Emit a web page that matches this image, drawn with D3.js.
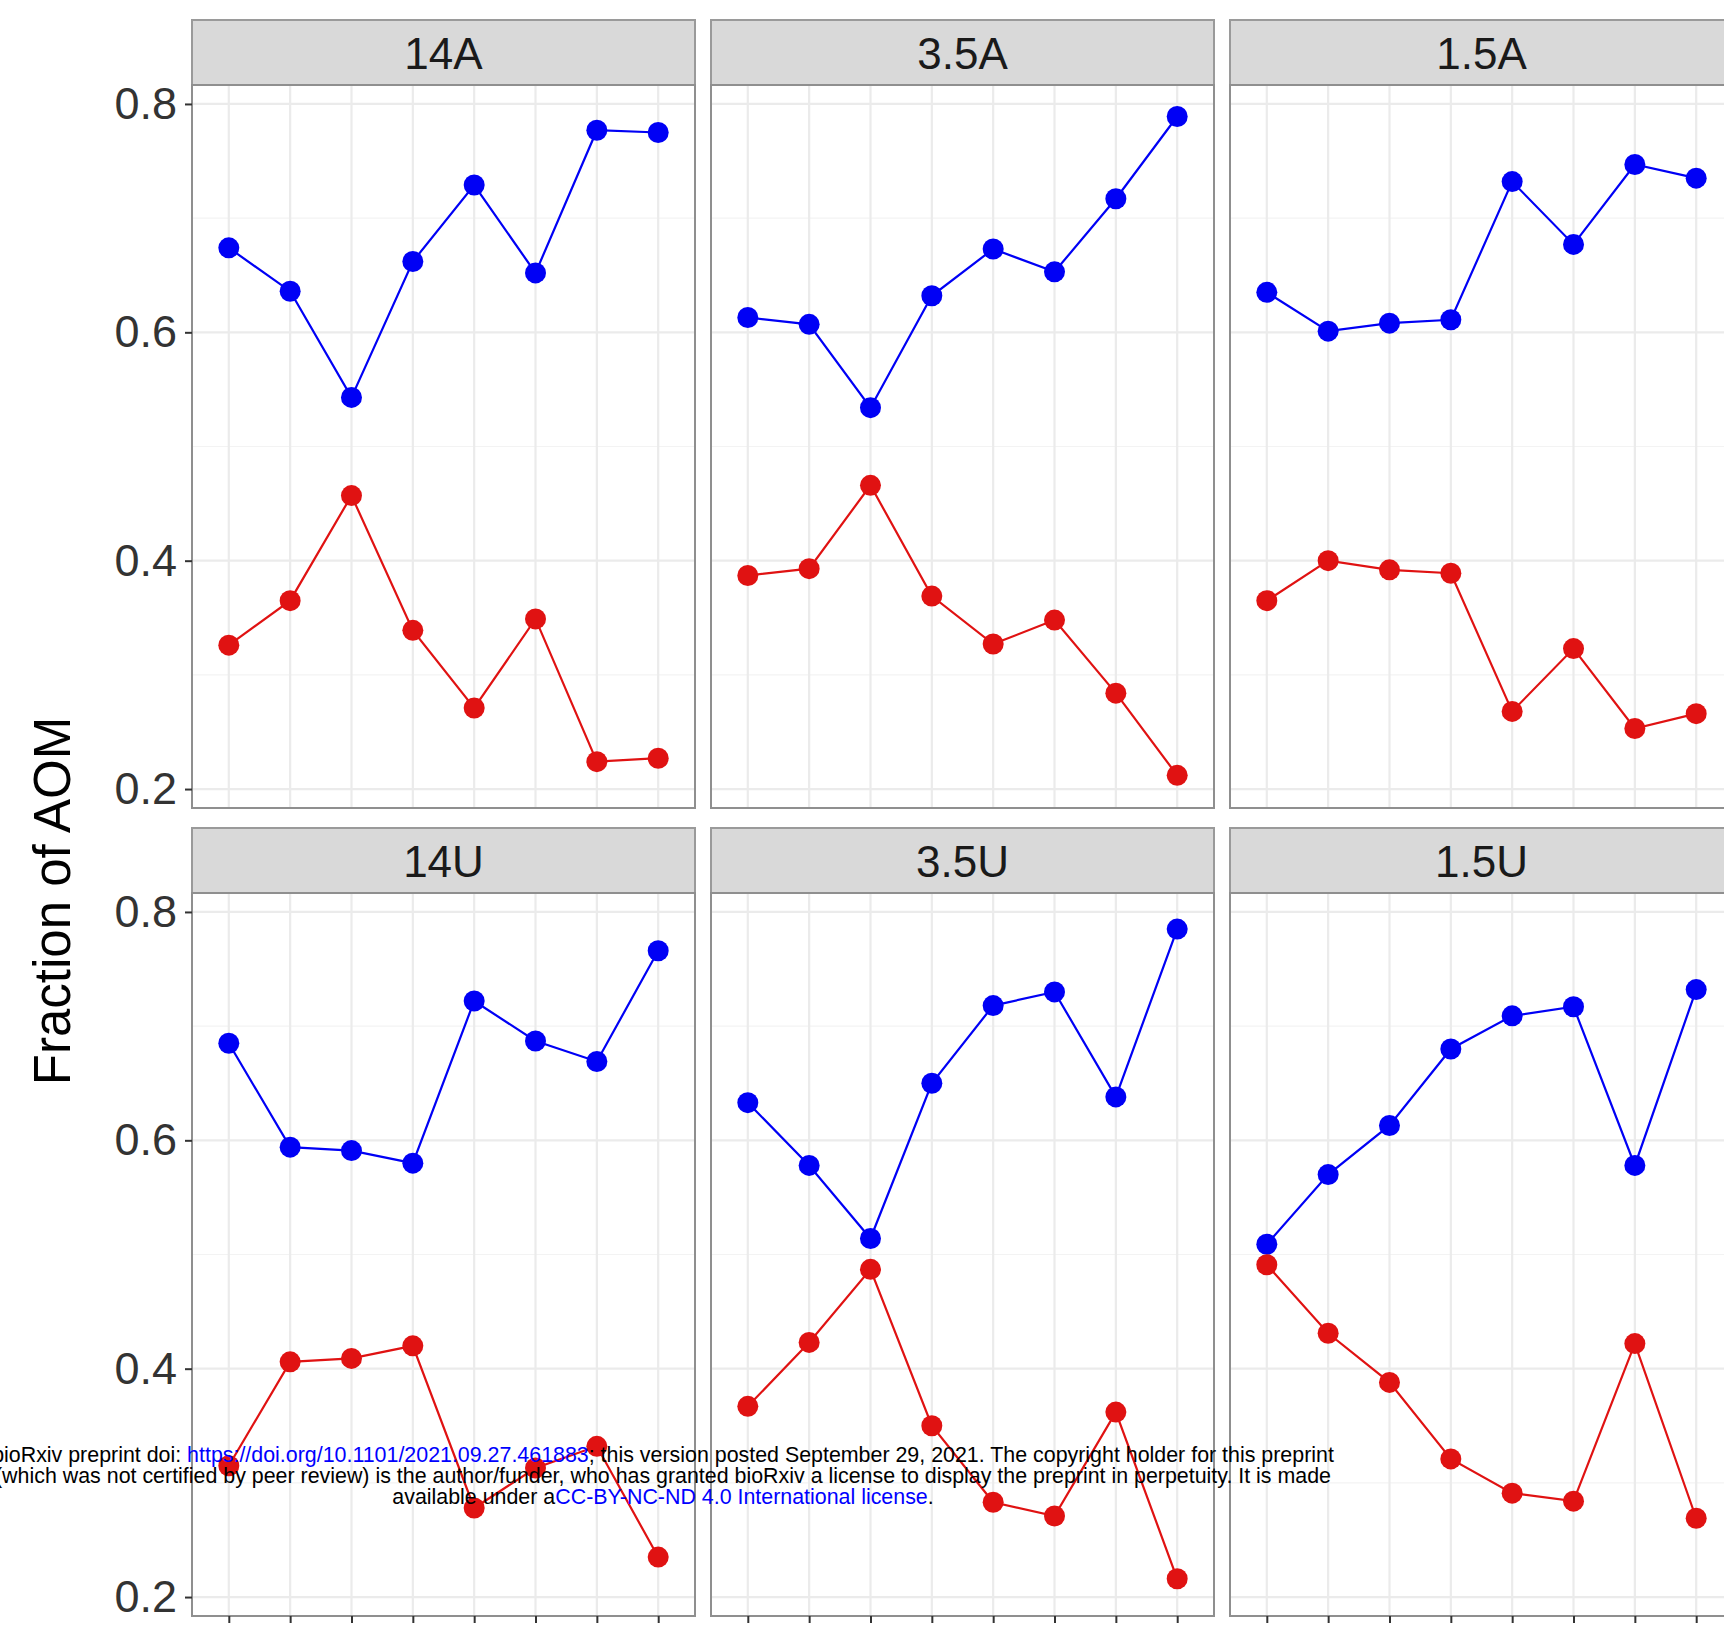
<!DOCTYPE html>
<html>
<head>
<meta charset="utf-8">
<title>Fraction of AOM</title>
<script src="https://cdn.jsdelivr.net/npm/d3@7"></script>
<style>
  body { margin: 0; background: #fff; }
  svg { display: block; }
</style>
</head>
<body>
<div id="chart"></div>
<script>
// facet names, in reading order
var panels = ["14A", "3.5A", "1.5A", "14U", "3.5U", "1.5U"];
// x categories (their labels are cut off below the picture)
var samples = ["s1", "s2", "s3", "s4", "s5", "s6", "s7", "s8"];

// values
var blue_14A = [0.674, 0.636, 0.543, 0.662, 0.729, 0.652, 0.777, 0.775];
var red_14A  = [0.326, 0.365, 0.457, 0.339, 0.271, 0.349, 0.224, 0.227];
var blue_35A = [0.613, 0.607, 0.534, 0.632, 0.673, 0.653, 0.717, 0.789];
var red_35A  = [0.387, 0.393, 0.466, 0.369, 0.327, 0.348, 0.284, 0.212];
var blue_15A = [0.635, 0.601, 0.608, 0.611, 0.732, 0.677, 0.747, 0.735];
var red_15A  = [0.365, 0.400, 0.392, 0.389, 0.268, 0.323, 0.253, 0.266];
var blue_14U = [0.685, 0.594, 0.591, 0.580, 0.722, 0.687, 0.669, 0.766];
var red_14U  = [0.315, 0.406, 0.409, 0.420, 0.278, 0.313, 0.332, 0.235];
var blue_35U = [0.633, 0.578, 0.514, 0.650, 0.718, 0.730, 0.638, 0.785];
var red_35U  = [0.367, 0.423, 0.487, 0.350, 0.283, 0.271, 0.362, 0.216];
var blue_15U = [0.509, 0.570, 0.613, 0.680, 0.709, 0.717, 0.578, 0.732];
var red_15U  = [0.491, 0.431, 0.388, 0.321, 0.291, 0.284, 0.422, 0.269];

var yTicks = [0.2, 0.4, 0.6, 0.8];
var yTickLabels = ["0.2", "0.4", "0.6", "0.8"];
var yMinor = [0.3, 0.5, 0.7];

var blueSeries = [blue_14A, blue_35A, blue_15A, blue_14U, blue_35U, blue_15U];
var redSeries  = [red_14A, red_35A, red_15A, red_14U, red_35U, red_15U];

// layout
var W = 1724, H = 1627;
var panelW = 503, panelH = 723, stripH = 65;
var left0 = 192, top0 = 20, colStep = 519, rowStep = 808;
var blue = "#0000f5", red = "#e01212";

var svg = d3.select("#chart").append("svg")
    .attr("width", W)
    .attr("height", H)
    .style("font-family", "Liberation Sans, Arial, Helvetica, sans-serif");

svg.append("rect").attr("width", W).attr("height", H).attr("fill", "#fff");

var x = d3.scalePoint()
    .domain(samples)
    .range([0, panelW])
    .padding(0.6);

var y = d3.scaleLinear()
    .domain([0.1834, 0.8166])
    .range([panelH, 0]);

var line = d3.line()
    .x(function(d, i) { return x(samples[i]); })
    .y(function(d) { return y(d); });

panels.forEach(function(name, k) {
    var col = k % 3, row = Math.floor(k / 3);
    var px = left0 + col * colStep;
    var sy = top0 + row * rowStep;
    var py = sy + stripH;

    // strip
    var strip = svg.append("g").attr("transform", "translate(" + px + "," + sy + ")");
    strip.append("rect")
        .attr("width", panelW).attr("height", stripH)
        .attr("fill", "#d9d9d9").attr("stroke", "#9a9a9a").attr("stroke-width", 2);
    strip.append("text")
        .attr("x", panelW / 2).attr("y", stripH / 2 + 16)
        .attr("text-anchor", "middle")
        .attr("font-size", 44)
        .attr("fill", "#1a1a1a")
        .text(name);

    var g = svg.append("g").attr("transform", "translate(" + px + "," + py + ")");

    // grid
    g.selectAll(".minor").data(yMinor).enter().append("line")
        .attr("x1", 0).attr("x2", panelW)
        .attr("y1", function(d) { return y(d); })
        .attr("y2", function(d) { return y(d); })
        .attr("stroke", "#f3f3f3").attr("stroke-width", 1.2);
    g.selectAll(".major").data(yTicks).enter().append("line")
        .attr("x1", 0).attr("x2", panelW)
        .attr("y1", function(d) { return y(d); })
        .attr("y2", function(d) { return y(d); })
        .attr("stroke", "#ebebeb").attr("stroke-width", 2.2);
    g.selectAll(".vgrid").data(samples).enter().append("line")
        .attr("x1", function(d) { return x(d); })
        .attr("x2", function(d) { return x(d); })
        .attr("y1", 0).attr("y2", panelH)
        .attr("stroke", "#ebebeb").attr("stroke-width", 2.2);

    // the two series
    [[blueSeries[k], blue], [redSeries[k], red]].forEach(function(s) {
        g.append("path")
            .attr("d", line(s[0]))
            .attr("fill", "none")
            .attr("stroke", s[1])
            .attr("stroke-width", 2.2);
    });
    [[blueSeries[k], blue], [redSeries[k], red]].forEach(function(s) {
        g.selectAll(null).data(s[0]).enter().append("circle")
            .attr("cx", function(d, i) { return x(samples[i]); })
            .attr("cy", function(d) { return y(d); })
            .attr("r", 10.5)
            .attr("fill", s[1]);
    });

    // panel border
    g.append("rect")
        .attr("width", panelW).attr("height", panelH)
        .attr("fill", "none").attr("stroke", "#8f8f8f").attr("stroke-width", 2);

    // y axis on the first column
    if (col === 0) {
        var ax = g.append("g")
            .call(d3.axisLeft(y).tickValues(yTicks)
                .tickFormat(function(d, i) { return yTickLabels[i]; })
                .tickSize(7).tickPadding(8));
        ax.select(".domain").remove();
        ax.selectAll("line").attr("stroke", "#333").attr("stroke-width", 2);
        ax.selectAll("text")
            .attr("font-size", 45)
            .attr("font-family", "Liberation Sans, Arial, sans-serif")
            .attr("fill", "#333");
    }
    // x ticks on the bottom row (labels fall outside the picture)
    if (row === 1) {
        var bx = g.append("g")
            .attr("transform", "translate(0," + panelH + ")")
            .call(d3.axisBottom(x).tickSize(7).tickFormat(""));
        bx.select(".domain").remove();
        bx.selectAll("line").attr("stroke", "#333").attr("stroke-width", 2);
    }
});

// y axis title
svg.append("text")
    .attr("transform", "translate(70,901) rotate(-90)")
    .attr("text-anchor", "middle")
    .attr("font-size", 51)
    .attr("fill", "#000")
    .text("Fraction of AOM");

// bioRxiv watermark
var wm = svg.append("text")
    .attr("text-anchor", "middle")
    .attr("font-size", 21.4)
    .attr("fill", "#000");
var l1 = wm.append("tspan").attr("x", 663).attr("y", 1462);
l1.append("tspan").text("bioRxiv preprint doi: ");
l1.append("tspan").attr("fill", "#0000ff").text("https://doi.org/10.1101/2021.09.27.461883");
l1.append("tspan").text("; this version posted September 29, 2021. The copyright holder for this preprint");
wm.append("tspan").attr("x", 663).attr("y", 1483)
    .text("(which was not certified by peer review) is the author/funder, who has granted bioRxiv a license to display the preprint in perpetuity. It is made");
var l3 = wm.append("tspan").attr("x", 663).attr("y", 1504);
l3.append("tspan").text("available under a");
l3.append("tspan").attr("fill", "#0000ff").text("CC-BY-NC-ND 4.0 International license");
l3.append("tspan").text(".");
</script>
</body>
</html>
